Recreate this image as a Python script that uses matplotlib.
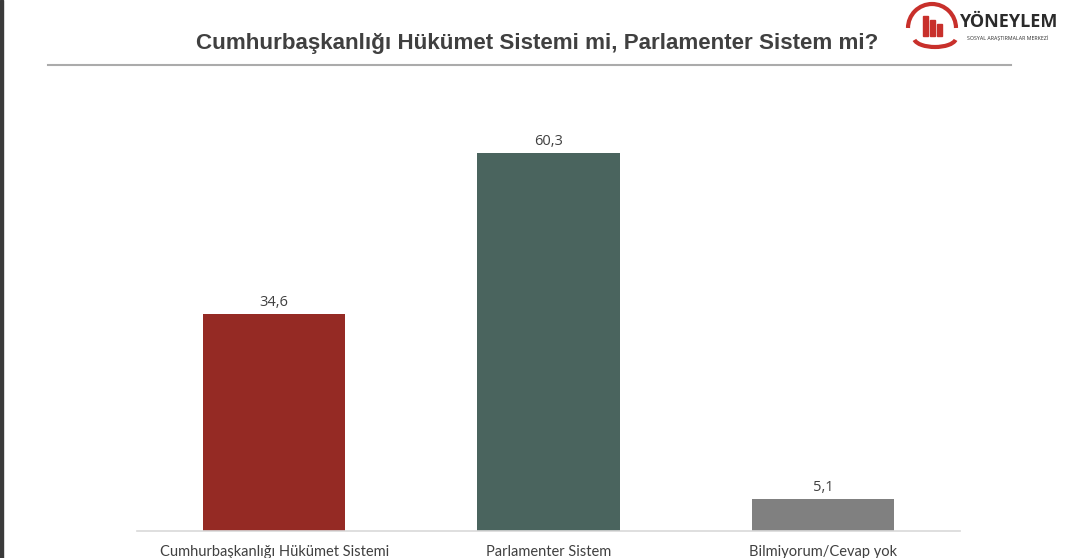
import matplotlib
matplotlib.use('Agg')
import matplotlib.pyplot as plt
from matplotlib.patches import Arc, Rectangle
from matplotlib.lines import Line2D

# data
categories = ['Cumhurbaşkanlığı Hükümet Sistemi', 'Parlamenter Sistem', 'Bilmiyorum/Cevap yok']
values = [34.6, 60.3, 5.1]
colors = ['#952A24', '#4A645E', '#808080']
title = 'Cumhurbaşkanlığı Hükümet Sistemi mi, Parlamenter Sistem mi?'

W, H = 1068, 558
fig = plt.figure(figsize=(W / 100, H / 100), dpi=100)
fig.patch.set_facecolor('white')

ax = fig.add_axes([137 / W, (H - 531) / H, 823 / W, 439 / H])
x = range(len(categories))
bars = ax.bar(x, values, width=0.52, color=colors, zorder=2)
for b, v in zip(bars, values):
    ax.annotate(f'{v:.1f}'.replace('.', ','), (b.get_x() + b.get_width() / 2, v),
                xytext=(0, 3), textcoords='offset points', ha='center', va='bottom',
                fontsize=10.5, color='#404040', family='Open Sans')

ax.set_xlim(-0.5, 2.5)
ax.set_ylim(0, 70)
ax.set_xticks(list(x))
ax.set_xticklabels(categories, fontsize=10.5, color='#404040', family='Lato')
ax.tick_params(axis='x', length=0, pad=10)
ax.set_yticks([])
for s in ['top', 'right', 'left']:
    ax.spines[s].set_visible(False)
ax.spines['bottom'].set_color('#D9D9D9')
ax.spines['bottom'].set_linewidth(1.2)

# title and rule
fig.text(537 / W, 1 - 44 / H, title, ha='center', va='center', fontsize=16.1,
         fontweight='bold', color='#404040', family='Liberation Sans')
fig.add_artist(Line2D([48 / W, 1011 / W], [1 - 65 / H, 1 - 65 / H], color='#ABABAB', lw=1.5))

# left dark border
fig.add_artist(Rectangle((0, 0), 3 / W, 1, transform=fig.transFigure, color='#3a3a3a'))

# logo
red = '#C8302B'
fig.add_artist(Arc((932 / W, 1 - 28 / H), 48 / W, 48 / H, theta1=0, theta2=180,
                   transform=fig.transFigure, color=red, lw=3))
for bx, bh in [(923, 20), (930, 16), (937, 12)]:
    fig.add_artist(Rectangle((bx / W, 1 - 36 / H), 5 / W, bh / H,
                             transform=fig.transFigure, color=red))
fig.add_artist(Arc((935 / W, 1 - 38 / H), 42 / W, 18 / H, theta1=190, theta2=350,
                   transform=fig.transFigure, color=red, lw=3))
fig.text(1008 / W, 1 - 22 / H, 'YÖNEYLEM', ha='center', va='center', fontsize=13,
         fontweight='bold', color='#2b2b2b', family='Open Sans')
fig.text(1008 / W, 1 - 38 / H, 'SOSYAL ARAŞTIRMALAR MERKEZİ', ha='center', va='center',
         fontsize=3.8, color='#2b2b2b', family='Open Sans')

fig.savefig('out.png', dpi=100)
